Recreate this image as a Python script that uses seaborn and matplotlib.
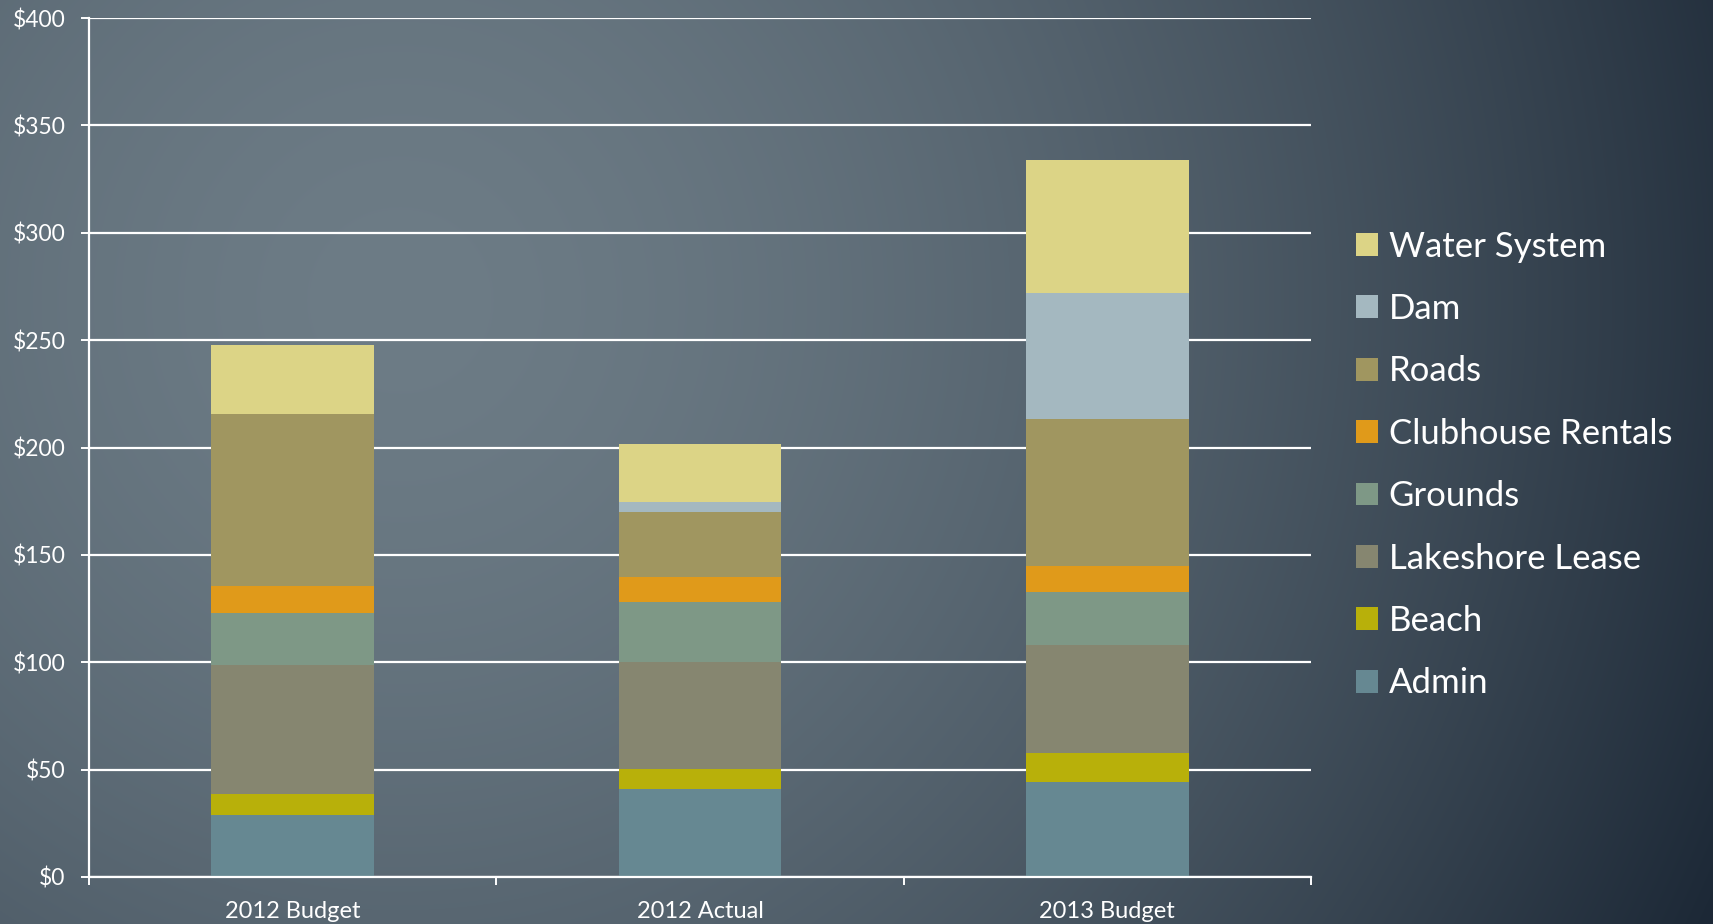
import numpy as np
import matplotlib
matplotlib.use("Agg")
import matplotlib.pyplot as plt
import seaborn as sns
from matplotlib.patches import Patch

# ---- data ----
categories = ["2012 Budget", "2012 Actual", "2013 Budget"]
series_names = ["Admin", "Beach", "Lakeshore Lease", "Grounds",
                "Clubhouse Rentals", "Roads", "Dam", "Water System"]
admin = [28.9, 40.8, 44.2]
beach = [9.8, 9.4, 13.7]
lakeshore = [60.1, 49.8, 50.2]
grounds = [24.0, 28.2, 24.8]
clubhouse = [12.9, 11.4, 12.1]
roads = [80.0, 30.5, 68.3]
dam = [0.0, 4.3, 58.6]
water = [32.1, 27.4, 62.0]
ytick_values = [0, 50, 100, 150, 200, 250, 300, 350, 400]
ytick_labels = ["$0", "$50", "$100", "$150", "$200", "$250", "$300", "$350", "$400"]

series_values = [admin, beach, lakeshore, grounds, clubhouse, roads, dam, water]
colors = ["#668892", "#B8B00A", "#868670", "#7E9886",
          "#E09A1A", "#A09660", "#A4B8C0", "#DCD486"]

sns.set_style("white")
plt.rcParams['font.family'] = ['Lato', 'DejaVu Sans']

W, H = 1713, 924
fig = plt.figure(figsize=(W / 100, H / 100), dpi=100)

# background radial gradient
bg = fig.add_axes([0, 0, 1, 1], zorder=-10)
yy, xx = np.mgrid[0:H, 0:W]
d = np.sqrt((xx - 400) ** 2 + (yy - 300) ** 2)
t = np.clip(d / 1450.0, 0, 1) ** 1.6
light = np.array([109, 124, 134]) / 255.0
dark = np.array([28, 40, 54]) / 255.0
img = light[None, None, :] * (1 - t[..., None]) + dark[None, None, :] * t[..., None]
bg.imshow(img, aspect="auto", extent=[0, 1, 0, 1], origin="upper")
bg.axis("off")

ax = fig.add_axes([89 / W, 1 - 877 / H, (1311 - 89) / W, (877 - 18) / H])
ax.set_facecolor("none")

bottom = np.zeros(len(categories))
for name, vals, col in zip(series_names, series_values, colors):
    sns.barplot(x=categories, y=vals, bottom=bottom, color=col, width=0.4,
                ax=ax, linewidth=0, saturation=1, label=name)
    bottom = bottom + np.array(vals)

ax.set_xlim(-0.5, 2.5)
ax.set_ylim(0, 400)
ax.set_yticks(ytick_values)
ax.set_yticklabels(ytick_labels)
ax.yaxis.grid(True, color="white", linewidth=1.6)
ax.xaxis.grid(False)
ax.set_axisbelow(True)

for s in ["top", "right"]:
    ax.spines[s].set_visible(False)
for s in ["left", "bottom"]:
    ax.spines[s].set_color("white")
    ax.spines[s].set_linewidth(1.6)

ax.tick_params(axis="y", colors="white", labelsize=16.5, length=6, width=1.4,
               pad=11, direction="out", left=True)
ax.tick_params(axis="x", which="major", colors="white", labelsize=17, length=0, pad=17)
ax.set_xticks([-0.5, 0.5, 1.5, 2.5], minor=True)
ax.tick_params(axis="x", which="minor", colors="white", length=6, width=1.4,
               direction="out", bottom=True)
ax.set_xlabel("")
ax.set_ylabel("")

handles = [Patch(facecolor=c, edgecolor="none", label=n) for n, c in zip(series_names, colors)]
leg = fig.legend(handles=handles[::-1], loc="center left",
                 bbox_to_anchor=(1356 / W, 1 - 465 / H), frameon=False,
                 fontsize=25, labelcolor="white", handlelength=0.64, handleheight=0.64,
                 handletextpad=0.3, labelspacing=0.875, borderpad=0, borderaxespad=0)
ax.get_legend() and ax.get_legend().remove()

fig.savefig("out.png", dpi=100)
